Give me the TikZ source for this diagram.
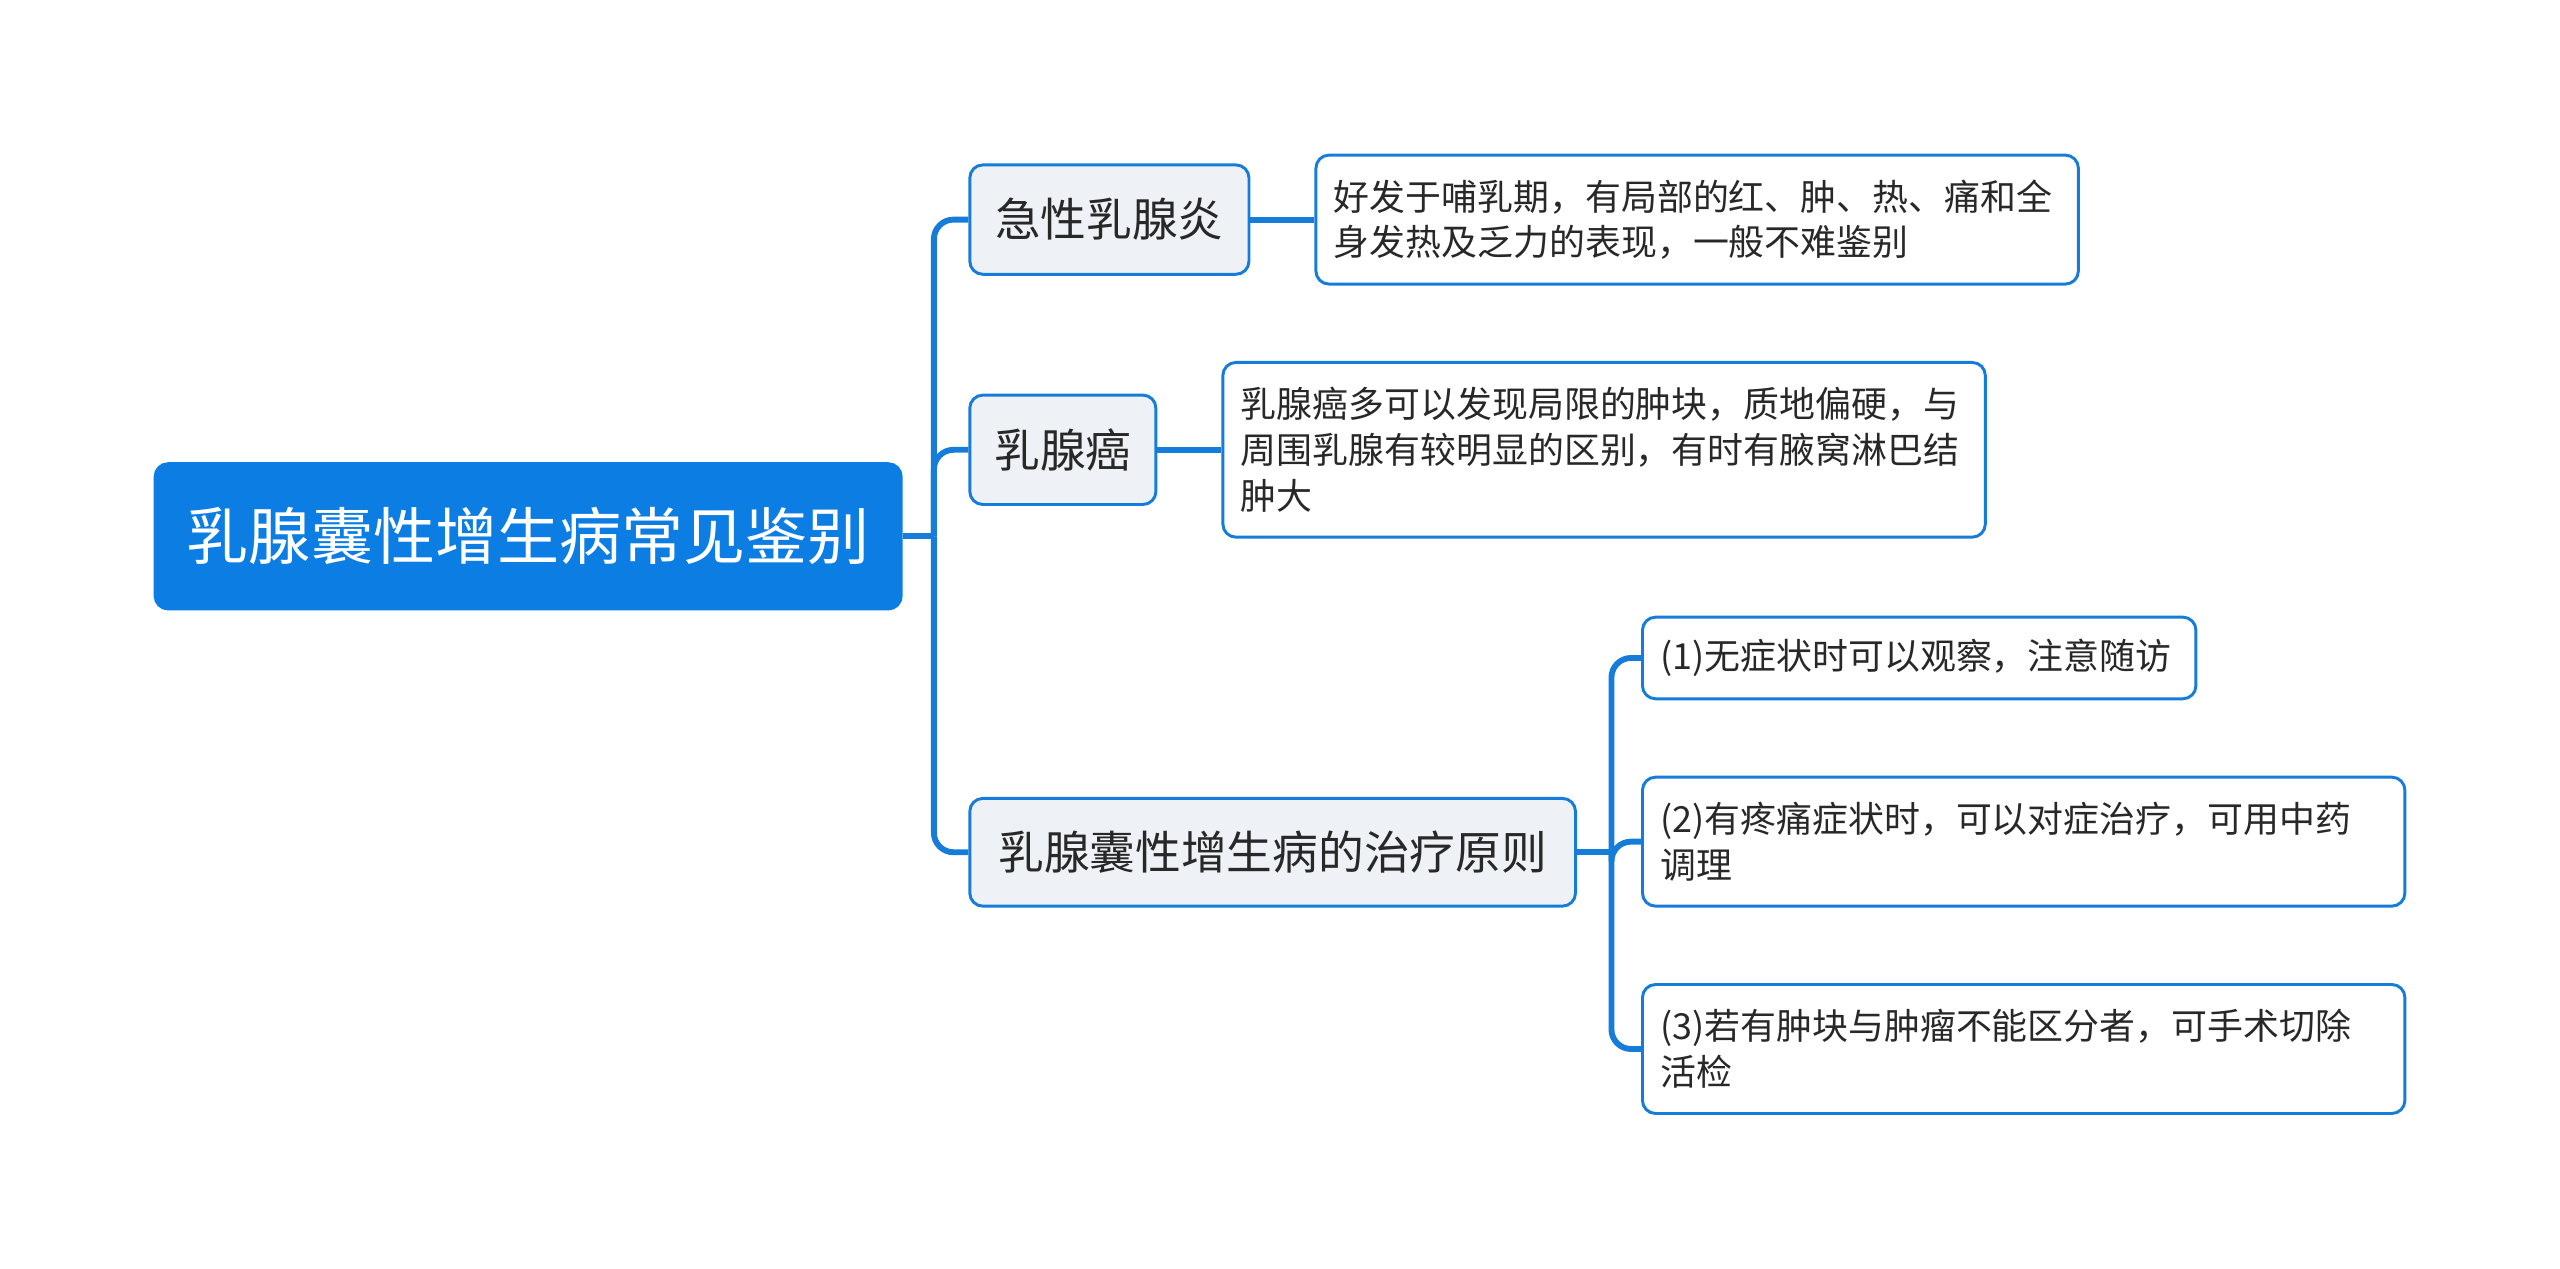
\documentclass[tikz,border=0pt]{standalone}
\usepackage{fontspec}
\setmainfont{Noto Sans CJK SC}
\usepackage{xcolor}
\usetikzlibrary{positioning}

\definecolor{mapblue}{RGB}{12,125,226}
\definecolor{linkblue}{RGB}{22,124,218}
\definecolor{subfill}{RGB}{238,242,246}
\definecolor{inkgray}{RGB}{40,40,40}

\begin{document}
\begin{tikzpicture}[
  x=0.5pt, y=-0.5pt,
  box/.style     = {draw=linkblue, line width=0.9pt, rounded corners=4pt,
                    text=inkgray, inner sep=0pt},
  rootbox/.style = {box, fill=mapblue, draw=mapblue, text=white,
                    font=\fontsize{19}{23}\selectfont},
  topic/.style   = {box, fill=subfill, minimum height=33.5pt,
                    font=\fontsize{14}{17}\selectfont},
  note/.style    = {box, fill=white, align=left, text width=222.5pt,
                    inner xsep=5.5pt, minimum height=39.5pt,
                    font=\fontsize{11}{14}\selectfont},
  link/.style    = {draw=linkblue, line width=1.8pt, rounded corners=6pt},
]
\useasboundingbox (0,0) rectangle (1568,777);

%% Root
\node[rootbox, minimum width=228.5pt, minimum height=44.5pt] (root) at (323.5,328.5)
      {乳腺囊性增生病常见鉴别};

%% First level
\node[topic, minimum width=85.5pt]  (acute)  at (679.5,134.5) {急性乳腺炎};
\node[topic, minimum width=57pt]    (cancer) at (651,275.5)   {乳腺癌};
\node[topic, minimum width=185.5pt, minimum height=33pt] (treat) at (779.5,522)
      {乳腺囊性增生病的治疗原则};

%% Second level
\node[note] (acutetxt) at (1039.5,134.5)
      {好发于哺乳期，有局部的红、肿、热、痛和全\\身发热及乏力的表现，一般不难鉴别};
\node[note, minimum height=53.5pt] (cancertxt) at (982.5,275.5)
      {乳腺癌多可以发现局限的肿块，质地偏硬，与\\周围乳腺有较明显的区别，有时有腋窝淋巴结\\肿大};
\node[note, text width=158.5pt, minimum height=25pt] (step1) at (1175.5,403)
      {(1)无症状时可以观察，注意随访};
\node[note] (step2) at (1239.5,515.5)
      {(2)有疼痛症状时，可以对症治疗，可用中药\\调理};
\node[note] (step3) at (1239.5,642.5)
      {(3)若有肿块与肿瘤不能区分者，可手术切除\\活检};

%% Junctions
\coordinate (rootjoin)  at (572,328.5);
\coordinate (treatjoin) at (987,522);

%% Root -> first level
\draw[link] (root.east) -- (rootjoin);
\foreach \t in {acute,cancer,treat}
  \draw[link] (rootjoin) |- (\t.west);

%% First level -> notes
\draw[link] (acute.east) -- (acutetxt.west);
\draw[link] (cancer.east) -- (cancertxt.west);

%% Treatment -> steps
\draw[link] (treat.east) -- (treatjoin);
\foreach \t in {step1,step2,step3}
  \draw[link] (treatjoin) |- (\t.west);

\end{tikzpicture}
\end{document}
